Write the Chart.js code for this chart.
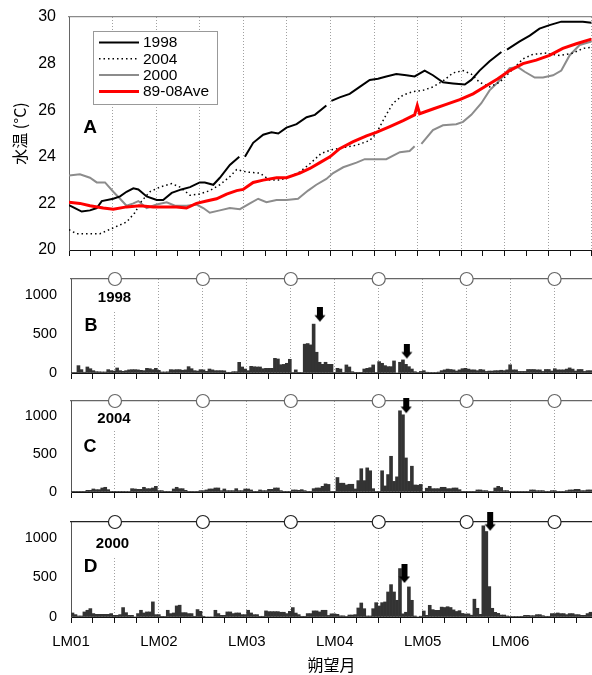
<!DOCTYPE html>
<html>
<head>
<meta charset="utf-8">
<script src="https://cdn.jsdelivr.net/npm/chart.js@4.4.0/dist/chart.umd.min.js"></script>
<style>
  body { margin: 0; background: #fff; }
  #wrap { position: relative; width: 592px; height: 675px; overflow: hidden; }
  canvas { position: absolute; left: 0; }
</style>
</head>
<body>
<div id="wrap">
  <canvas id="cA" width="592" height="262" style="top:0;width:592px;height:262px"></canvas>
  <canvas id="cB" width="592" height="121" style="top:262px;width:592px;height:121px"></canvas>
  <canvas id="cC" width="592" height="119" style="top:383px;width:592px;height:119px"></canvas>
  <canvas id="cD" width="592" height="173" style="top:502px;width:592px;height:173px"></canvas>
</div>
<script>
// 朔望月の長さ (日) - x軸の目盛りに使う
const LUNAR = 29.53;
const monthLabels = ['LM01', 'LM02', 'LM03', 'LM04', 'LM05', 'LM06'];
const legendNames = ['1998', '2004', '2000', '89-08Ave'];
const tempTicks = [20, 22, 24, 26, 28, 30];
const countTicks = [0, 500, 1000];

// 📌 水温 (A)
const days1998 = [0, 2, 4.3, 7.1, 9.4, 11.1, 15, 17.3, 19.5, 21.8, 23.5, 26.3, 29.7, 31.9, 34.8, 38.1, 41, 44.3, 46, 48.9, 51.1, 54.5, 57.7, 58.6, 59.6, 62.4, 65.8, 68.6, 70.9, 73.7, 77.1, 80.5, 83.3, 87.2, 88, 88.9, 91.7, 95.1, 98.5, 101.9, 104.7, 107.5, 110.9, 114.3, 117.1, 120.5, 123.3, 126.7, 130.1, 134.1, 136.3, 139.1, 142.5, 146.5, 147.5, 148.4, 152.7, 156.1, 159.4, 162.8, 166.8, 170.7, 174.1, 177];
const temp1998 = [21.93, 21.8, 21.65, 21.7, 21.8, 22.1, 22.2, 22.3, 22.5, 22.65, 22.6, 22.3, 22.15, 22.15, 22.45, 22.6, 22.7, 22.9, 22.9, 22.8, 23.1, 23.65, 24.0, null, 24.0, 24.6, 24.95, 25.05, 25.0, 25.25, 25.4, 25.7, 25.8, 26.2, null, 26.4, 26.55, 26.7, 27.0, 27.3, 27.35, 27.45, 27.55, 27.5, 27.45, 27.7, 27.5, 27.2, 27.15, 27.1, 27.3, 27.7, 28.1, 28.5, null, 28.6, 28.95, 29.2, 29.5, 29.65, 29.8, 29.8, 29.8, 29.75];

const days2004 = [0, 2.6, 7.1, 10.5, 15, 19.5, 22.3, 24.6, 27.4, 30.8, 34.8, 37.6, 41, 44.3, 47.7, 51.1, 54.5, 56.8, 60.1, 64.7, 68, 71.4, 74.8, 78.2, 81.6, 85.5, 88.9, 92.9, 97.4, 101.9, 104.1, 107, 109.8, 113.2, 116.6, 119.9, 123.3, 126.7, 130.1, 133.5, 136.3, 139.1, 142.5, 145.9, 149.9, 153.8, 157.2, 161.7, 166.2, 170.7, 174.1, 177];
const temp2004 = [20.87, 20.7, 20.7, 20.7, 20.95, 21.2, 21.6, 22.1, 22.5, 22.7, 22.85, 22.7, 22.35, 22.4, 22.55, 22.8, 23.15, 23.45, 23.35, 23.3, 23.0, 23.0, 23.15, 23.35, 23.7, 24.15, 24.3, 24.4, 24.5, 24.7, 25.0, 25.7, 26.3, 26.65, 26.8, 26.85, 27.0, 27.25, 27.6, 27.7, 27.55, 27.2, 27.0, 27.2, 27.7, 28.2, 28.4, 28.45, 28.35, 28.45, 28.65, 28.7];

const days2000 = [0, 3.7, 7.1, 9.4, 12.2, 15, 17.3, 19.5, 21.8, 23.5, 26.3, 29.7, 33.1, 35.9, 39.8, 43.2, 45.5, 47.7, 51.1, 54.5, 57.9, 61.3, 64.1, 66.9, 70.3, 73.7, 77.6, 81, 83.8, 87.2, 89.5, 92.9, 97.4, 100.2, 104.1, 107.5, 112.1, 115.4, 117.1, 118.2, 119.4, 123.3, 126.7, 131.2, 133.5, 136.3, 139.7, 142.5, 145.3, 149.3, 152.1, 154.4, 157.8, 160.6, 164, 166.8, 169.6, 173, 177];
const temp2000 = [23.2, 23.25, 23.1, 22.9, 22.9, 22.5, 22.2, 21.9, 22.0, 22.1, 21.8, 21.95, 22.05, 21.9, 21.9, 21.95, 21.8, 21.6, 21.7, 21.8, 21.75, 22.0, 22.2, 22.05, 22.15, 22.15, 22.2, 22.55, 22.8, 23.05, 23.3, 23.55, 23.75, 23.9, 23.9, 23.9, 24.2, 24.25, 24.45, null, 24.55, 25.15, 25.35, 25.4, 25.5, 25.8, 26.3, 26.85, 27.2, 27.8, 27.85, 27.65, 27.4, 27.4, 27.5, 27.7, 28.35, 28.8, 28.95];

const daysAve = [0, 3.7, 7.1, 11.6, 15, 19.5, 24, 28.5, 33.1, 36.4, 39.8, 43.2, 46.6, 50, 53.4, 56.8, 59, 62.4, 65.8, 70.3, 73.7, 78.2, 81.6, 85, 88.4, 91.7, 96.3, 100.8, 104.1, 108.7, 113.2, 117.1, 118, 118.8, 123.3, 127.8, 132.4, 136.9, 141.4, 145.3, 149.3, 153.8, 158.3, 162.8, 167.3, 171.9, 177];
const tempAve = [22.05, 22.0, 21.9, 21.8, 21.75, 21.85, 21.9, 21.85, 21.85, 21.85, 21.8, 22.0, 22.1, 22.2, 22.4, 22.55, 22.6, 22.9, 23.0, 23.1, 23.1, 23.3, 23.5, 23.75, 24.0, 24.35, 24.65, 24.9, 25.05, 25.3, 25.55, 25.8, 26.2, 25.85, 26.05, 26.25, 26.45, 26.7, 27.05, 27.35, 27.7, 28.0, 28.15, 28.35, 28.65, 28.85, 29.05];

// 📌 日別の個体数 (B, C, D) - day 0 から
const count1998 = [5, 8, 94, 43, 10, 77, 55, 30, 17, 15,
  13, 13, 43, 30, 25, 64, 30, 21, 30, 40,
  43, 43, 40, 34, 30, 60, 55, 43, 60, 34,
  13, 13, 15, 43, 40, 43, 43, 35, 40, 81,
  55, 30, 25, 43, 40, 21, 51, 40, 30, 30,
  30, 28, 9, 9, 17, 17, 136, 77, 51, 30,
  85, 80, 77, 77, 55, 60, 60, 60, 187, 179,
  106, 110, 124, 175, 5, 40, 3, 5, 368, 376,
  359, 624, 265, 137, 111, 137, 111, 111, 5, 60,
  51, 5, 103, 77, 17, 3, 3, 3, 51, 60,
  68, 103, 5, 145, 124, 94, 81, 81, 154, 0,
  137, 167, 111, 81, 51, 17, 5, 20, 30, 10,
  8, 5, 8, 12, 30, 40, 50, 45, 40, 25,
  40, 55, 60, 50, 40, 40, 30, 45, 40, 20,
  25, 25, 30, 30, 35, 30, 40, 105, 40, 40,
  20, 20, 20, 45, 45, 45, 40, 40, 20, 45,
  45, 25, 55, 40, 40, 40, 50, 65, 50, 25,
  45, 45, 20, 30, 30];

const count2004 = [3, 3, 9, 9, 9, 22, 22, 40, 31, 31,
  53, 62, 31, 3, 3, 3, 2, 3, 5, 8,
  44, 40, 35, 35, 62, 44, 44, 53, 75, 18,
  18, 3, 3, 5, 40, 62, 44, 44, 22, 9,
  9, 5, 3, 18, 18, 27, 40, 40, 53, 53,
  18, 40, 18, 18, 18, 44, 18, 18, 40, 40,
  27, 9, 9, 27, 18, 18, 35, 35, 53, 53,
  18, 2, 2, 3, 27, 27, 22, 31, 18, 2,
  2, 44, 53, 53, 75, 107, 100, 3, 3, 191,
  116, 116, 93, 102, 102, 40, 150, 307, 150, 318,
  280, 44, 5, 5, 280, 80, 230, 471, 140, 200,
  1071, 1018, 449, 140, 340, 93, 90, 100, 5, 50,
  75, 44, 44, 44, 62, 62, 44, 44, 53, 53,
  31, 9, 9, 3, 3, 3, 27, 27, 18, 18,
  2, 2, 53, 75, 60, 18, 18, 2, 3, 3,
  3, 3, 3, 3, 27, 27, 18, 18, 18, 2,
  2, 18, 18, 2, 2, 2, 18, 27, 27, 35,
  35, 18, 18, 27, 27];

const count2000 = [51, 30, 13, 13, 64, 85, 106, 43, 34, 34,
  34, 34, 34, 43, 21, 21, 30, 119, 55, 21,
  21, 0, 43, 85, 51, 64, 64, 191, 30, 30,
  3, 5, 85, 43, 51, 140, 149, 55, 55, 43,
  43, 9, 94, 72, 9, 0, 0, 0, 85, 43,
  21, 21, 64, 64, 43, 51, 51, 30, 30, 85,
  51, 30, 30, 9, 9, 77, 68, 68, 68, 68,
  60, 60, 43, 72, 119, 50, 30, 9, 9, 43,
  43, 77, 77, 64, 85, 85, 20, 40, 40, 34,
  15, 15, 5, 25, 25, 30, 114, 177, 105, 13,
  13, 105, 181, 139, 181, 190, 316, 409, 316, 211,
  612, 40, 60, 380, 211, 13, 0, 10, 76, 21,
  148, 93, 84, 84, 125, 120, 130, 120, 90, 70,
  80, 45, 38, 40, 23, 225, 110, 34, 1152, 1080,
  384, 110, 59, 46, 25, 25, 13, 5, 5, 5,
  5, 9, 21, 21, 17, 17, 30, 30, 17, 9,
  9, 43, 43, 51, 43, 43, 30, 43, 43, 30,
  30, 21, 21, 43, 60];

// 満月 (○) と矢印 (↓)
const moonDays = [14.77, 44.3, 73.83, 103.36, 132.89, 162.42];
const arrowDays1998 = [83.6, 112.8], arrowTips1998 = [655, 185];
const arrowDays2004 = [112.6], arrowTips2004 = [1040];
const arrowDays2000 = [112, 140.8], arrowTips2000 = [430, 1090];

const TEMP_MAX_DAY = 177.2, BAR_MAX_DAY = 175, BAR_TOP = 1200;

Chart.defaults.font.family = '"Liberation Sans", Arial, sans-serif';
Chart.defaults.color = '#000';

const pts = (xs, ys) => xs.map((x, i) => ({ x: x, y: ys[i] }));
const barPts = vals => vals.map((v, i) => ({ x: i + 0.5, y: v }));

function quarterTicks(max) {
  const t = [];
  for (let i = 0; i * LUNAR / 4 <= max + 0.01; i++) t.push({ value: i * LUNAR / 4 });
  return t;
}

function makeArrow(h) {
  const c = document.createElement('canvas');
  c.width = 12; c.height = h * 2;
  const g = c.getContext('2d');
  g.fillStyle = '#000';
  g.fillRect(3, 0, 6, h - 6);
  g.beginPath();
  g.moveTo(0.5, h - 6.5); g.lineTo(11.5, h - 6.5); g.lineTo(6, h);
  g.closePath(); g.fill();
  return c;
}

function xScale(max, height, labelled) {
  return {
    type: 'linear', min: 0, max: max, offset: false,
    afterBuildTicks: s => { s.ticks = quarterTicks(max); },
    afterFit: s => { s.height = height; s.paddingLeft = 0; s.paddingRight = 0; },
    grid: {
      offset: false, tickLength: 6, tickColor: '#111', tickWidth: 1,
      color: c => (c.index > 0 && c.index % 2 === 0) ? '#a0a0a0' : 'rgba(0,0,0,0)'
    },
    border: { color: '#111', dash: [1, 2] },
    ticks: labelled ? {
      display: true, autoSkip: false, maxRotation: 0, padding: 10, color: '#000', font: { size: 15 },
      callback: (v, i) => i % 4 === 0 ? monthLabels[i / 4] : ''
    } : { display: false },
    title: labelled ? {
      display: true, text: '朔望月', color: '#000',
      font: { family: '"Noto Sans CJK JP", sans-serif', size: 16 }, padding: { top: 0, bottom: 0 }
    } : { display: false }
  };
}

function topScale(max, color) {
  return {
    type: 'linear', position: 'top', min: 0, max: max,
    afterFit: s => { s.height = 0; },
    grid: { display: false, drawTicks: false },
    ticks: { display: false },
    border: { display: true, color: color, width: 1.3 }
  };
}

// y軸の幅を固定し、ラベル由来の余白を消す
const fixY = w => s => { s.width = w; s.paddingTop = 0; s.paddingBottom = 0; };

// 📌 パネル文字 (A, B ... と年)
const panelText = {
  id: 'panelText',
  beforeDatasetsDraw(chart, args, o) {
    const { ctx, chartArea: a } = chart;
    ctx.save();
    if (o.box) {
      ctx.fillStyle = '#fff';
      ctx.fillRect(a.left + o.box[0], a.top + 1, o.box[1], o.box[2]);
    }
    ctx.fillStyle = '#000';
    ctx.textAlign = 'center';
    ctx.textBaseline = 'middle';
    if (o.letter) {
      ctx.font = 'bold ' + o.letterSize + 'px "Liberation Sans", Arial';
      ctx.fillText(o.letter, a.left + o.letterAt[0], a.top + o.letterAt[1]);
    }
    if (o.year) {
      ctx.font = 'bold 15px "Liberation Sans", Arial';
      ctx.fillText(o.year, a.left + o.yearAt[0], a.top + o.yearAt[1]);
    }
    ctx.restore();
  }
};

// 📌 凡例 (A)
const tempLegend = {
  id: 'tempLegend',
  beforeDatasetsDraw(chart) {
    const ctx = chart.ctx;
    ctx.save();
    ctx.fillStyle = '#fff';
    ctx.fillRect(93.5, 31.5, 124, 73);
    ctx.strokeStyle = '#999';
    ctx.lineWidth = 1;
    ctx.strokeRect(93.5, 31.5, 124, 73);
    legendNames.forEach((name, i) => {
      const ds = chart.data.datasets.find(d => d.label === name);
      const y = 42.5 + i * 16.3;
      ctx.strokeStyle = ds.borderColor;
      ctx.lineWidth = ds.borderWidth;
      ctx.setLineDash(ds.borderDash || []);
      ctx.beginPath(); ctx.moveTo(99, y); ctx.lineTo(139, y); ctx.stroke();
      ctx.setLineDash([]);
      ctx.fillStyle = '#000';
      ctx.font = '15.5px "Liberation Sans", Arial';
      ctx.textBaseline = 'middle';
      ctx.fillText(name, 143, y + 0.5);
    });
    ctx.restore();
  }
};

const quiet = { legend: { display: false }, tooltip: { enabled: false } };

// 📌 A: 水温
new Chart(document.getElementById('cA'), {
  type: 'line',
  data: {
    datasets: [
      { label: legendNames[3], data: pts(daysAve, tempAve), borderColor: '#ff0000', borderWidth: 3, order: 0 },
      { label: legendNames[0], data: pts(days1998, temp1998), borderColor: '#000', borderWidth: 2, order: 1 },
      { label: legendNames[1], data: pts(days2004, temp2004), borderColor: '#000', borderWidth: 1.5, borderDash: [1.5, 3], order: 2 },
      { label: legendNames[2], data: pts(days2000, temp2000), borderColor: '#8c8c8c', borderWidth: 2, order: 3 }
    ].map(d => Object.assign(d, { pointRadius: 0, tension: 0, xAxisID: 'x', yAxisID: 'y' }))
  },
  options: {
    responsive: false, animation: false, events: [],
    layout: { autoPadding: false, padding: { top: 17, left: 0, right: 0, bottom: 0 } },
    plugins: Object.assign({
      panelText: { letter: 'A', letterSize: 19, letterAt: [21, 111] }
    }, quiet),
    scales: {
      x: xScale(TEMP_MAX_DAY, 12, false),
      xt: topScale(TEMP_MAX_DAY, '#8a8a8a'),
      y: {
        min: 20, max: 30,
        afterBuildTicks: s => { s.ticks = tempTicks.map(v => ({ value: v })); },
        afterFit: fixY(69),
        grid: { drawOnChartArea: false, drawTicks: false },
        border: { color: '#666' },
        ticks: { padding: 13, color: '#000', font: { size: 16 }, callback: v => String(v) },
        title: {
          display: true, text: '水温 (°C)', color: '#000',
          font: { family: '"Noto Sans CJK JP", sans-serif', size: 16 }, padding: { top: 10, bottom: 0 }
        }
      }
    }
  },
  plugins: [panelText, tempLegend]
});

// 📌 B, C, D: 個体数
function barPanel(id, counts, arrowDays, arrowTips, o) {
  return new Chart(document.getElementById(id), {
    type: 'bar',
    data: {
      datasets: [
        { type: 'line', data: pts(arrowDays, arrowTips), showLine: false, pointStyle: makeArrow(o.arrowH), pointRadius: 8, clip: false, order: 0, xAxisID: 'x', yAxisID: 'y' },
        { type: 'line', data: moonDays.map(d => ({ x: d, y: BAR_TOP })), showLine: false, pointRadius: 6.5, pointBackgroundColor: '#fff', pointBorderColor: o.topColor, pointBorderWidth: 1.2, clip: false, order: 1, xAxisID: 'x', yAxisID: 'y' },
        { data: barPts(counts), backgroundColor: '#333', borderWidth: 0, barPercentage: 1, categoryPercentage: 1, order: 2, xAxisID: 'x', yAxisID: 'y' }
      ]
    },
    options: {
      responsive: false, animation: false, events: [],
      layout: { autoPadding: false, padding: { top: o.padTop, left: 0, right: 0, bottom: 0 } },
      plugins: Object.assign({ panelText: o.text }, quiet),
      scales: {
        x: xScale(BAR_MAX_DAY, o.axisH, o.labelled),
        xt: topScale(BAR_MAX_DAY, o.topColor),
        y: {
          min: 0, max: BAR_TOP,
          afterBuildTicks: s => { s.ticks = countTicks.map(v => ({ value: v })); },
          afterFit: fixY(71),
          grid: { drawOnChartArea: false, drawTicks: false },
          border: { color: '#555' },
          ticks: { padding: 14, color: '#000', font: { size: 14.5 }, callback: v => String(v) }
        }
      }
    },
    plugins: [panelText]
  });
}

barPanel('cB', count1998, arrowDays1998, arrowTips1998, {
  padTop: 17, axisH: 10, labelled: false, topColor: '#666', arrowH: 15,
  text: { letter: 'B', letterSize: 18, letterAt: [20, 47], year: '1998', yearAt: [43.5, 19], box: [26, 35, 30] }
});
barPanel('cC', count2004, arrowDays2004, arrowTips2004, {
  padTop: 18, axisH: 10, labelled: false, topColor: '#666', arrowH: 15,
  text: { letter: 'C', letterSize: 18, letterAt: [19, 46], year: '2004', yearAt: [43, 17.5], box: [26, 35, 28] }
});
barPanel('cD', count2000, arrowDays2000, arrowTips2000, {
  padTop: 20, axisH: 58, labelled: true, topColor: '#222', arrowH: 19,
  text: { letter: 'D', letterSize: 19, letterAt: [19.5, 45], year: '2000', yearAt: [41.5, 21.5], box: [24, 35, 35] }
});
</script>
</body>
</html>
